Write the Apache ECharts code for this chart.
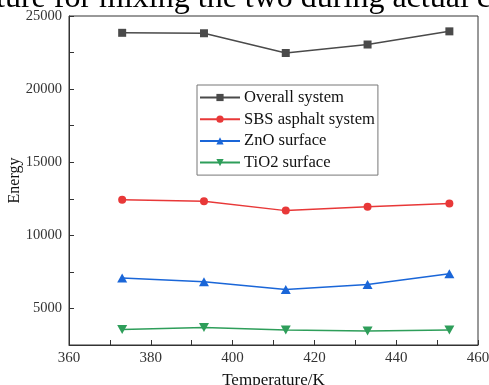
<!DOCTYPE html>
<html><head><meta charset="utf-8">
<script src="https://cdn.jsdelivr.net/npm/echarts@6/dist/echarts.min.js"></script>
<style>html,body{margin:0;padding:0;background:#fff}#c{width:489px;height:385px}</style>
</head><body><div id="c"></div>
<script>
const temps = [373, 393, 413, 433, 453];
const overall = [23850, 23820, 22470, 23050, 23950];
const sbs = [12440, 12330, 11690, 11950, 12170];
const zno = [7080, 6830, 6300, 6630, 7380];
const tio2 = [3560, 3700, 3520, 3450, 3520];
const seriesNames = ['Overall system', 'SBS asphalt system', 'ZnO surface', 'TiO2 surface'];
const seriesColors = ['#4a4a4a', '#e83838', '#1a66d8', '#2e9e5a'];
const seriesSymbols = ['rect', 'circle', 'triangle', 'path://M0,0 L10,0 L5,9 Z'];
const allData = [overall, sbs, zno, tio2];
const font = 'Liberation Serif, Times New Roman, serif';

const chart = echarts.init(document.getElementById('c'), null, {renderer: 'canvas'});
chart.setOption({
  animation: false,
  backgroundColor: '#fff',
  grid: {left: 69, right: 11, top: 16, bottom: 40, show: true, borderColor: '#333', borderWidth: 1,
         containLabel: false, outerBoundsMode: 'none'},
  graphic: [{
    type: 'text', x: -4, y: -17,
    style: {text: 'ture for mixing the two during actual c', font: '32px ' + font, fill: '#000', verticalAlign: 'top'}
  }],
  legend: {
    orient: 'vertical', left: 197, top: 85,
    padding: [4, 3, 4, 2], itemGap: 4.7, itemWidth: 40, itemHeight: 9,
    borderColor: '#777', borderWidth: 1, backgroundColor: '#fff',
    textStyle: {fontFamily: font, fontSize: 16.6, color: '#111', padding: [0, 0, 0, -1]},
    data: seriesNames
  },
  xAxis: {
    type: 'value', min: 360, max: 460, interval: 10,
    name: 'Temperature/K', nameLocation: 'middle', nameGap: 27, nameMoveOverlap: false,
    nameTextStyle: {fontFamily: font, fontSize: 17, color: '#111'},
    axisLine: {lineStyle: {color: '#333'}},
    axisTick: {inside: true, length: 5, lineStyle: {color: '#333'}},
    axisLabel: {fontFamily: font, fontSize: 15, color: '#333', margin: 6,
      formatter: v => (v % 20 === 0 ? String(v) : '')},
    splitLine: {show: false}
  },
  yAxis: {
    type: 'value', min: 2500, max: 25000, interval: 2500,
    name: 'Energy', nameLocation: 'middle', nameGap: 46, nameMoveOverlap: false,
    nameTextStyle: {fontFamily: font, fontSize: 16, color: '#111'},
    axisLine: {show: true, lineStyle: {color: '#333'}},
    axisTick: {show: true, inside: true, length: 5, lineStyle: {color: '#333'}},
    axisLabel: {fontFamily: font, fontSize: 14.5, color: '#333', margin: 7,
      formatter: v => (v % 5000 === 0 ? String(v) : '')},
    splitLine: {show: false}
  },
  series: allData.map((d, i) => ({
    name: seriesNames[i], type: 'line',
    data: temps.map((t, j) => [t, d[j]]),
    symbol: seriesSymbols[i], symbolSize: i >= 2 ? [10, 9] : 8,
    showAllSymbol: true,
    lineStyle: {color: seriesColors[i], width: 1.5},
    itemStyle: {color: seriesColors[i]}
  }))
});
</script></body></html>
